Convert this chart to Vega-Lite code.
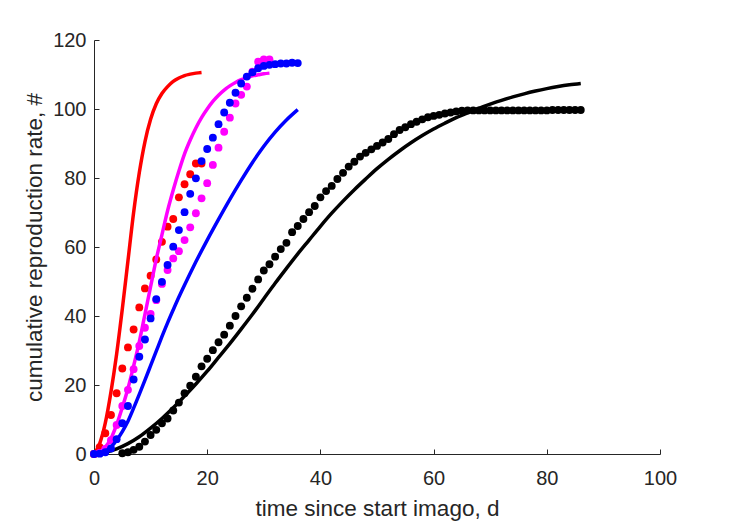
{
"$schema": "https://vega.github.io/schema/vega-lite/v6.json",
"width": 566, "height": 414,
"autosize": {"type": "none"},
"padding": {"left": 94, "top": 40, "right": 69, "bottom": 67},
"background": "white",
"config": {
  "view": {"stroke": null},
  "font": "Liberation Sans",
  "axis": {"grid": false, "domainColor": "#262626", "tickColor": "#262626", "labelColor": "#262626", "titleColor": "#262626", "labelFont": "Liberation Sans", "titleFont": "Liberation Sans", "labelFontSize": 20, "titleFontSize": 22.5, "titleFontWeight": "normal", "tickSize": -5, "domainWidth": 1, "tickWidth": 1, "labelFlush": false, "labelOverlap": false}
},
"datasets": {
  "pts": [
    {"s":"black","k":"d","x":0,"y":0},{"s":"black","k":"d","x":5,"y":0.2},{"s":"black","k":"d","x":6,"y":0.5},{"s":"black","k":"d","x":7,"y":1.2},{"s":"black","k":"d","x":8,"y":2.1},{"s":"black","k":"d","x":9,"y":3.6},{"s":"black","k":"d","x":10,"y":5.5},{"s":"black","k":"d","x":11,"y":7},{"s":"black","k":"d","x":12,"y":8.9},{"s":"black","k":"d","x":13,"y":10.3},{"s":"black","k":"d","x":14,"y":12.6},{"s":"black","k":"d","x":15,"y":14.9},{"s":"black","k":"d","x":16,"y":17.6},{"s":"black","k":"d","x":17,"y":19.8},{"s":"black","k":"d","x":18,"y":22.4},{"s":"black","k":"d","x":19,"y":25.4},{"s":"black","k":"d","x":20,"y":27.6},{"s":"black","k":"d","x":21,"y":30.1},{"s":"black","k":"d","x":22,"y":32.4},{"s":"black","k":"d","x":23,"y":34.6},{"s":"black","k":"d","x":24,"y":37.2},{"s":"black","k":"d","x":25,"y":40},{"s":"black","k":"d","x":26,"y":42.8},{"s":"black","k":"d","x":27,"y":45.3},{"s":"black","k":"d","x":28,"y":47.9},{"s":"black","k":"d","x":29,"y":50.6},{"s":"black","k":"d","x":30,"y":53.2},{"s":"black","k":"d","x":31,"y":55},{"s":"black","k":"d","x":32,"y":57.2},{"s":"black","k":"d","x":33,"y":59.4},{"s":"black","k":"d","x":34,"y":61.2},{"s":"black","k":"d","x":35,"y":64.3},{"s":"black","k":"d","x":36,"y":66.1},{"s":"black","k":"d","x":37,"y":68.1},{"s":"black","k":"d","x":38,"y":70.1},{"s":"black","k":"d","x":39,"y":71.9},{"s":"black","k":"d","x":40,"y":74.4},{"s":"black","k":"d","x":41,"y":76.2},{"s":"black","k":"d","x":42,"y":77.7},{"s":"black","k":"d","x":43,"y":79.7},{"s":"black","k":"d","x":44,"y":81.5},{"s":"black","k":"d","x":45,"y":83.3},{"s":"black","k":"d","x":46,"y":84.7},{"s":"black","k":"d","x":47,"y":86.2},{"s":"black","k":"d","x":48,"y":87.3},{"s":"black","k":"d","x":49,"y":88.3},{"s":"black","k":"d","x":50,"y":89.3},{"s":"black","k":"d","x":51,"y":90.3},{"s":"black","k":"d","x":52,"y":91.3},{"s":"black","k":"d","x":53,"y":92.7},{"s":"black","k":"d","x":54,"y":93.9},{"s":"black","k":"d","x":55,"y":94.7},{"s":"black","k":"d","x":56,"y":95.6},{"s":"black","k":"d","x":57,"y":96.3},{"s":"black","k":"d","x":58,"y":97},{"s":"black","k":"d","x":59,"y":97.6},{"s":"black","k":"d","x":60,"y":98},{"s":"black","k":"d","x":61,"y":98.3},{"s":"black","k":"d","x":62,"y":98.7},{"s":"black","k":"d","x":63,"y":99},{"s":"black","k":"d","x":64,"y":99.3},{"s":"black","k":"d","x":65,"y":99.5},{"s":"black","k":"d","x":66,"y":99.6},{"s":"black","k":"d","x":67,"y":99.6},{"s":"black","k":"d","x":68,"y":99.6},{"s":"black","k":"d","x":69,"y":99.6},{"s":"black","k":"d","x":70,"y":99.6},{"s":"black","k":"d","x":71,"y":99.6},{"s":"black","k":"d","x":72,"y":99.6},{"s":"black","k":"d","x":73,"y":99.6},{"s":"black","k":"d","x":74,"y":99.6},{"s":"black","k":"d","x":75,"y":99.6},{"s":"black","k":"d","x":76,"y":99.6},{"s":"black","k":"d","x":77,"y":99.6},{"s":"black","k":"d","x":78,"y":99.6},{"s":"black","k":"d","x":79,"y":99.6},{"s":"black","k":"d","x":80,"y":99.6},{"s":"black","k":"d","x":81,"y":99.7},{"s":"black","k":"d","x":82,"y":99.7},{"s":"black","k":"d","x":83,"y":99.7},{"s":"black","k":"d","x":84,"y":99.7},{"s":"black","k":"d","x":85,"y":99.7},{"s":"black","k":"d","x":86,"y":99.7},
    {"s":"red","k":"d","x":0,"y":0},{"s":"red","k":"d","x":1,"y":2},{"s":"red","k":"d","x":2,"y":6},{"s":"red","k":"d","x":3,"y":11.3},{"s":"red","k":"d","x":4,"y":17.6},{"s":"red","k":"d","x":5,"y":24.8},{"s":"red","k":"d","x":6,"y":30.9},{"s":"red","k":"d","x":7,"y":36.1},{"s":"red","k":"d","x":8,"y":42.5},{"s":"red","k":"d","x":9,"y":48},{"s":"red","k":"d","x":10,"y":51.7},{"s":"red","k":"d","x":11,"y":56.4},{"s":"red","k":"d","x":12,"y":61.5},{"s":"red","k":"d","x":13,"y":65.9},{"s":"red","k":"d","x":14,"y":68.1},{"s":"red","k":"d","x":15,"y":74.4},{"s":"red","k":"d","x":16,"y":78.2},{"s":"red","k":"d","x":17,"y":81.1},{"s":"red","k":"d","x":18,"y":84.2},{"s":"red","k":"d","x":19,"y":84.2},
    {"s":"magenta","k":"d","x":0,"y":0},{"s":"magenta","k":"d","x":1,"y":0.3},{"s":"magenta","k":"d","x":2,"y":1.5},{"s":"magenta","k":"d","x":3,"y":4},{"s":"magenta","k":"d","x":4,"y":8.4},{"s":"magenta","k":"d","x":5,"y":13.9},{"s":"magenta","k":"d","x":6,"y":18.6},{"s":"magenta","k":"d","x":7,"y":24.6},{"s":"magenta","k":"d","x":8,"y":31.3},{"s":"magenta","k":"d","x":9,"y":36.6},{"s":"magenta","k":"d","x":10,"y":40.6},{"s":"magenta","k":"d","x":11,"y":44.6},{"s":"magenta","k":"d","x":12,"y":49.3},{"s":"magenta","k":"d","x":13,"y":53.3},{"s":"magenta","k":"d","x":14,"y":56.7},{"s":"magenta","k":"d","x":15,"y":58.8},{"s":"magenta","k":"d","x":16,"y":62},{"s":"magenta","k":"d","x":17,"y":65.7},{"s":"magenta","k":"d","x":18,"y":69.8},{"s":"magenta","k":"d","x":19,"y":74.1},{"s":"magenta","k":"d","x":20,"y":78.5},{"s":"magenta","k":"d","x":21,"y":83.8},{"s":"magenta","k":"d","x":22,"y":88.8},{"s":"magenta","k":"d","x":23,"y":93.4},{"s":"magenta","k":"d","x":24,"y":97.5},{"s":"magenta","k":"d","x":25,"y":101.6},{"s":"magenta","k":"d","x":26,"y":104.1},{"s":"magenta","k":"d","x":27,"y":106.5},{"s":"magenta","k":"d","x":28,"y":110.8},{"s":"magenta","k":"d","x":29,"y":113.7},{"s":"magenta","k":"d","x":30,"y":114.4},{"s":"magenta","k":"d","x":31,"y":114.4},
    {"s":"blue","k":"d","x":0,"y":0},{"s":"blue","k":"d","x":1,"y":0.1},{"s":"blue","k":"d","x":2,"y":0.5},{"s":"blue","k":"d","x":3,"y":1.6},{"s":"blue","k":"d","x":4,"y":4.3},{"s":"blue","k":"d","x":5,"y":8.9},{"s":"blue","k":"d","x":6,"y":13.9},{"s":"blue","k":"d","x":7,"y":21.6},{"s":"blue","k":"d","x":8,"y":28.2},{"s":"blue","k":"d","x":9,"y":33.2},{"s":"blue","k":"d","x":10,"y":39.3},{"s":"blue","k":"d","x":11,"y":44.9},{"s":"blue","k":"d","x":12,"y":49.9},{"s":"blue","k":"d","x":13,"y":54.8},{"s":"blue","k":"d","x":14,"y":60.1},{"s":"blue","k":"d","x":15,"y":64.9},{"s":"blue","k":"d","x":16,"y":70.1},{"s":"blue","k":"d","x":17,"y":75.4},{"s":"blue","k":"d","x":18,"y":79.9},{"s":"blue","k":"d","x":19,"y":84.9},{"s":"blue","k":"d","x":20,"y":88.4},{"s":"blue","k":"d","x":21,"y":91.7},{"s":"blue","k":"d","x":22,"y":95.6},{"s":"blue","k":"d","x":23,"y":99},{"s":"blue","k":"d","x":24,"y":101.8},{"s":"blue","k":"d","x":25,"y":104.7},{"s":"blue","k":"d","x":26,"y":107.4},{"s":"blue","k":"d","x":27,"y":109.4},{"s":"blue","k":"d","x":28,"y":110.6},{"s":"blue","k":"d","x":29,"y":111.8},{"s":"blue","k":"d","x":30,"y":112.5},{"s":"blue","k":"d","x":31,"y":112.8},{"s":"blue","k":"d","x":32,"y":113},{"s":"blue","k":"d","x":33,"y":113.2},{"s":"blue","k":"d","x":34,"y":113.2},{"s":"blue","k":"d","x":35,"y":113.4},{"s":"blue","k":"d","x":36,"y":113.3}
  ],
  "fits": [
    {"s":"black","x":0,"y":0},{"s":"black","x":2,"y":0.5},{"s":"black","x":4,"y":1.5},{"s":"black","x":6,"y":3},{"s":"black","x":8,"y":5},{"s":"black","x":10,"y":7.5},{"s":"black","x":12,"y":10.3},{"s":"black","x":14,"y":13.4},{"s":"black","x":16,"y":16.8},{"s":"black","x":18,"y":20.3},{"s":"black","x":20,"y":24},{"s":"black","x":22,"y":28},{"s":"black","x":24,"y":32},{"s":"black","x":26,"y":36.2},{"s":"black","x":28,"y":40.5},{"s":"black","x":30,"y":45},{"s":"black","x":32,"y":49.5},{"s":"black","x":34,"y":53.8},{"s":"black","x":36,"y":58},{"s":"black","x":38,"y":62},{"s":"black","x":40,"y":66},{"s":"black","x":42,"y":69.8},{"s":"black","x":44,"y":73.3},{"s":"black","x":46,"y":76.6},{"s":"black","x":48,"y":79.7},{"s":"black","x":50,"y":82.7},{"s":"black","x":52,"y":85.4},{"s":"black","x":54,"y":87.9},{"s":"black","x":56,"y":90.2},{"s":"black","x":58,"y":92.3},{"s":"black","x":60,"y":94.2},{"s":"black","x":62,"y":95.9},{"s":"black","x":64,"y":97.5},{"s":"black","x":66,"y":98.9},{"s":"black","x":68,"y":100.2},{"s":"black","x":70,"y":101.4},{"s":"black","x":72,"y":102.5},{"s":"black","x":74,"y":103.5},{"s":"black","x":76,"y":104.4},{"s":"black","x":78,"y":105.2},{"s":"black","x":80,"y":105.9},{"s":"black","x":82,"y":106.5},{"s":"black","x":84,"y":107},{"s":"black","x":86,"y":107.4},
    {"s":"red","x":0,"y":0},{"s":"red","x":1,"y":3},{"s":"red","x":2,"y":9},{"s":"red","x":3,"y":18},{"s":"red","x":4,"y":29},{"s":"red","x":5,"y":42},{"s":"red","x":6,"y":56},{"s":"red","x":7,"y":70},{"s":"red","x":8,"y":81.5},{"s":"red","x":9,"y":90.5},{"s":"red","x":10,"y":97},{"s":"red","x":11,"y":101.5},{"s":"red","x":12,"y":104.5},{"s":"red","x":13,"y":106.5},{"s":"red","x":14,"y":108},{"s":"red","x":15,"y":109},{"s":"red","x":16,"y":109.7},{"s":"red","x":17,"y":110.1},{"s":"red","x":18,"y":110.4},{"s":"red","x":19,"y":110.6},
    {"s":"magenta","x":0,"y":0},{"s":"magenta","x":1,"y":0.5},{"s":"magenta","x":2,"y":2},{"s":"magenta","x":3,"y":4.5},{"s":"magenta","x":4,"y":8.5},{"s":"magenta","x":5,"y":13.5},{"s":"magenta","x":6,"y":19},{"s":"magenta","x":7,"y":25.5},{"s":"magenta","x":8,"y":32.5},{"s":"magenta","x":9,"y":40.5},{"s":"magenta","x":10,"y":48.5},{"s":"magenta","x":11,"y":56.5},{"s":"magenta","x":12,"y":63.5},{"s":"magenta","x":13,"y":70.5},{"s":"magenta","x":14,"y":76.5},{"s":"magenta","x":15,"y":82},{"s":"magenta","x":16,"y":87},{"s":"magenta","x":17,"y":91},{"s":"magenta","x":18,"y":94.5},{"s":"magenta","x":19,"y":97.5},{"s":"magenta","x":20,"y":100},{"s":"magenta","x":21,"y":102.2},{"s":"magenta","x":22,"y":104},{"s":"magenta","x":23,"y":105.5},{"s":"magenta","x":24,"y":106.7},{"s":"magenta","x":25,"y":107.7},{"s":"magenta","x":26,"y":108.5},{"s":"magenta","x":27,"y":109.1},{"s":"magenta","x":28,"y":109.6},{"s":"magenta","x":29,"y":109.9},{"s":"magenta","x":30,"y":110.2},{"s":"magenta","x":31,"y":110.4},
    {"s":"blue","x":0,"y":0},{"s":"blue","x":1,"y":0.2},{"s":"blue","x":2,"y":0.8},{"s":"blue","x":3,"y":2},{"s":"blue","x":4,"y":4},{"s":"blue","x":5,"y":6.5},{"s":"blue","x":6,"y":9.5},{"s":"blue","x":7,"y":13.3},{"s":"blue","x":8,"y":17.3},{"s":"blue","x":9,"y":21.4},{"s":"blue","x":10,"y":25.6},{"s":"blue","x":11,"y":29.8},{"s":"blue","x":12,"y":34},{"s":"blue","x":13,"y":38},{"s":"blue","x":14,"y":41.8},{"s":"blue","x":15,"y":45.5},{"s":"blue","x":16,"y":49},{"s":"blue","x":17,"y":52.4},{"s":"blue","x":18,"y":55.7},{"s":"blue","x":20,"y":62},{"s":"blue","x":22,"y":68},{"s":"blue","x":24,"y":73.8},{"s":"blue","x":26,"y":79.3},{"s":"blue","x":28,"y":84.5},{"s":"blue","x":30,"y":89.2},{"s":"blue","x":32,"y":93.3},{"s":"blue","x":34,"y":96.8},{"s":"blue","x":36,"y":99.8}
  ]
},
"encoding": {
  "x": {"field": "x", "type": "quantitative", "scale": {"domain": [0, 100], "nice": false, "zero": false},
        "axis": {"values": [0, 20, 40, 60, 80, 100], "title": "time since start imago, d", "labelPadding": 19, "titleY": 61, "titleBaseline": "alphabetic"}},
  "y": {"field": "y", "type": "quantitative", "scale": {"domain": [0, 120], "nice": false},
        "axis": {"values": [0, 20, 40, 60, 80, 100, 120], "title": "cumulative reproduction rate, #", "labelPadding": 13, "titleX": -53, "titleY": 207, "titleBaseline": "alphabetic"}}
},
"layer": [
  {"data": {"name": "pts"}, "transform": [{"filter": "datum.s == 'black'"}], "mark": {"type": "circle", "size": 62, "opacity": 1, "color": "#000000"}},
  {"data": {"name": "fits"}, "transform": [{"filter": "datum.s == 'black'"}], "mark": {"type": "line", "strokeWidth": 3.5, "color": "#000000", "interpolate": "monotone"}},
  {"data": {"name": "pts"}, "transform": [{"filter": "datum.s == 'red'"}], "mark": {"type": "circle", "size": 62, "opacity": 1, "color": "#FF0000"}},
  {"data": {"name": "fits"}, "transform": [{"filter": "datum.s == 'red'"}], "mark": {"type": "line", "strokeWidth": 3.5, "color": "#FF0000", "interpolate": "monotone"}},
  {"data": {"name": "pts"}, "transform": [{"filter": "datum.s == 'magenta'"}], "mark": {"type": "circle", "size": 62, "opacity": 1, "color": "#FF00FF"}},
  {"data": {"name": "fits"}, "transform": [{"filter": "datum.s == 'magenta'"}], "mark": {"type": "line", "strokeWidth": 3.5, "color": "#FF00FF", "interpolate": "monotone"}},
  {"data": {"name": "pts"}, "transform": [{"filter": "datum.s == 'blue'"}], "mark": {"type": "circle", "size": 62, "opacity": 1, "color": "#0000FF"}},
  {"data": {"name": "fits"}, "transform": [{"filter": "datum.s == 'blue'"}], "mark": {"type": "line", "strokeWidth": 3.5, "color": "#0000FF", "interpolate": "monotone"}}
]
}
